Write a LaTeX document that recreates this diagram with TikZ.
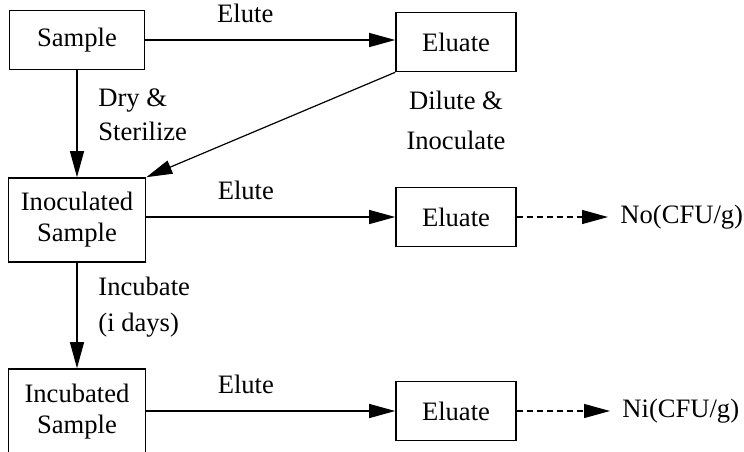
\documentclass[tikz,border=0pt]{standalone}
\usepackage{fontspec}
\setmainfont{Liberation Serif}
\usetikzlibrary{arrows.meta}

\tikzset{
  stepbox/.style = {draw, line width = 0.8pt, align = center, inner sep = 0pt},
  flow/.style = {-{Triangle[length = 13pt, width = 7pt]}, line width = 0.6pt},
  result/.style = {flow, dash pattern = on 3pt off 2pt}
}

\begin{document}
\begin{tikzpicture}[x = 0.5pt, y = -0.5pt, font = \fontsize{13.3}{15.5}\selectfont]

    \useasboundingbox (0, 0) rectangle (744, 451);

    \node[stepbox, minimum width = 67.5pt, minimum height = 29.5pt] (sample) at (77, 40) {Sample};
    \node[stepbox, minimum width = 60pt, minimum height = 29.5pt] (eluA) at (456, 42) {Eluate};
    \node[stepbox, minimum width = 68.5pt, minimum height = 42pt] (inoc) at (77, 220) {Inoculated\\Sample};
    \node[stepbox, minimum width = 60pt, minimum height = 29.5pt] (eluB) at (456, 217) {Eluate};
    \node[stepbox, minimum width = 68.5pt, minimum height = 43pt] (incub) at (77, 412) {Incubated\\Sample};
    \node[stepbox, minimum width = 60pt, minimum height = 29.5pt] (eluC) at (456, 411) {Eluate};

    \node[anchor = west, inner sep = 0pt] (countA) at (620, 217) {No(CFU/g)};
    \node[anchor = west, inner sep = 0pt] (countB) at (622, 411) {Ni(CFU/g)};

    \draw[flow] (sample.east) -- (sample.east -| eluA.west) node[pos = 0.4, above = 5pt] {Elute};
    \draw[flow] (sample.south) -- (inoc.north);
    \node[anchor = west, align = left, inner sep = 0pt, font = \fontsize{13.3}{17}\selectfont] (dry) at (98, 115) {Dry \&\\Sterilize};
    \draw[flow] (eluA.south west) -- (inoc.north east);
    \node[align = center, inner sep = 0pt, font = \fontsize{13.3}{20}\selectfont] (dilute) at (456, 120) {Dilute \&\\Inoculate};

    \draw[flow] (inoc.east |- eluB.west) -- (eluB.west) node[pos = 0.4, above = 5pt] {Elute};
    \draw[result] (eluB.east) -- ([xshift = -6pt] countA.west);

    \draw[flow] (inoc.south) -- (incub.north);
    \node[anchor = west, align = left, inner sep = 0pt, font = \fontsize{13.3}{18}\selectfont] (incubate) at (98, 307) {Incubate\\(i days)};

    \draw[flow] (incub.east |- eluC.west) -- (eluC.west) node[pos = 0.4, above = 5pt] {Elute};
    \draw[result] (eluC.east) -- ([xshift = -6pt] countB.west);

\end{tikzpicture}
\end{document}
